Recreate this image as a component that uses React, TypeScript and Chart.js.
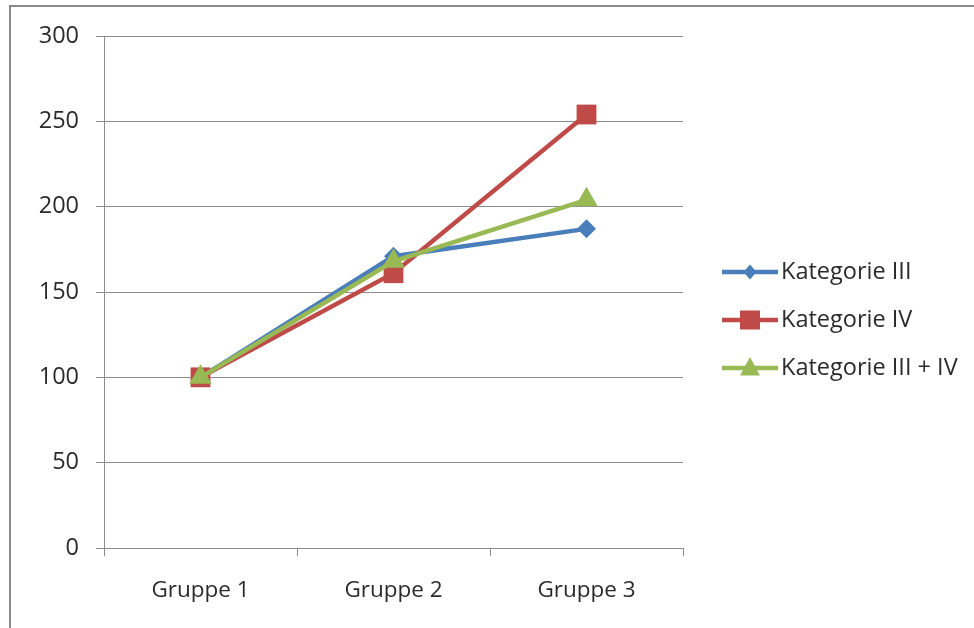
import React, { useEffect, useRef } from "react";
import { Chart, registerables } from "chart.js";

Chart.register(...registerables);

const categories = ["Gruppe 1", "Gruppe 2", "Gruppe 3"];
const seriesNames = ["Kategorie III", "Kategorie IV", "Kategorie III + IV"];
const kategorieIII = [100, 171, 187];
const kategorieIV = [100, 161, 254];
const kategorieIIIundIV = [100, 168, 204];
const yTicks = [0, 50, 100, 150, 200, 250, 300];

const COLORS = ["#4a7ebb", "#be4b48", "#98b954"];
const STYLES = ["rectRot", "rect", "triangle"];
const RADII = [9.5, 14, 13];
const FONT = "'Open Sans', 'Noto Sans', sans-serif";
const TEXT = "#2b2b2b";
const LINE_W = 4.5;

// outer frame of the chart object
const framePlugin = {
  id: "frame",
  beforeDraw(chart: any) {
    const ctx = chart.ctx;
    ctx.save();
    ctx.fillStyle = "#ffffff";
    ctx.fillRect(0, 0, chart.width, chart.height);
    ctx.strokeStyle = "#8a8a8a";
    ctx.lineWidth = 2;
    ctx.strokeRect(10, 6, chart.width + 20, chart.height + 20);
    ctx.restore();
  },
};

function drawMarker(ctx: CanvasRenderingContext2D, style: string, x: number, y: number) {
  ctx.beginPath();
  if (style === "rectRot") {
    ctx.moveTo(x, y - 7.5);
    ctx.lineTo(x + 6.5, y);
    ctx.lineTo(x, y + 7.5);
    ctx.lineTo(x - 6.5, y);
  } else if (style === "rect") {
    ctx.rect(x - 10, y - 9.5, 20, 19);
  } else {
    ctx.moveTo(x, y - 11);
    ctx.lineTo(x + 10, y + 7.5);
    ctx.lineTo(x - 10, y + 7.5);
  }
  ctx.closePath();
  ctx.fill();
}

// line-with-marker legend on the right
const legendPlugin = {
  id: "lineLegend",
  afterDraw(chart: any) {
    const ctx = chart.ctx;
    const rows = [272, 320, 368];
    ctx.save();
    chart.data.datasets.forEach((ds: any, i: number) => {
      const y = rows[i];
      ctx.strokeStyle = ds.borderColor;
      ctx.fillStyle = ds.borderColor;
      ctx.lineWidth = LINE_W;
      ctx.beginPath();
      ctx.moveTo(722, y);
      ctx.lineTo(778, y);
      ctx.stroke();
      drawMarker(ctx, ds.pointStyle, 750, y);
      ctx.fillStyle = TEXT;
      ctx.font = `23.5px ${FONT}`;
      ctx.textBaseline = "middle";
      ctx.textAlign = "left";
      ctx.fillText(ds.label, 781, y);
    });
    ctx.restore();
  },
};

export default function App() {
  const canvasRef = useRef<HTMLCanvasElement | null>(null);

  useEffect(() => {
    document.body.style.margin = "0";
    const canvas = canvasRef.current;
    if (!canvas) return;
    const series = [kategorieIII, kategorieIV, kategorieIIIundIV];
    const chart = new Chart(canvas, {
      type: "line",
      data: {
        labels: categories,
        datasets: series.map((values, i) => ({
          label: seriesNames[i],
          data: values,
          borderColor: COLORS[i],
          backgroundColor: COLORS[i],
          pointBackgroundColor: COLORS[i],
          pointBorderColor: COLORS[i],
          pointBorderWidth: 0,
          pointStyle: STYLES[i] as any,
          pointRadius: RADII[i],
          borderWidth: LINE_W,
          tension: 0,
          fill: false,
          order: series.length - 1 - i,
        })),
      },
      options: {
        responsive: false,
        animation: false,
        layout: { padding: { left: 0, top: 36, right: 291, bottom: 0 } },
        plugins: {
          legend: { display: false },
          tooltip: { enabled: false },
        },
        scales: {
          x: {
            offset: true,
            grid: {
              offset: true,
              drawOnChartArea: false,
              drawTicks: true,
              tickLength: 8,
              color: "#8c8c8c",
            },
            border: { color: "#8c8c8c", width: 1 },
            ticks: {
              color: TEXT,
              font: { family: FONT, size: 22.5 },
              padding: 21,
              maxRotation: 0,
            },
            afterFit: (s: any) => {
              s.height = 80;
            },
          },
          y: {
            min: 0,
            max: 300,
            afterBuildTicks: (s: any) => {
              s.ticks = yTicks.map((v) => ({ value: v }));
            },
            grid: {
              color: "#8c8c8c",
              drawTicks: true,
              tickLength: 8,
            },
            border: { color: "#8c8c8c", width: 1 },
            ticks: {
              color: TEXT,
              font: { family: FONT, size: 23.5 },
              padding: 17,
            },
            afterFit: (s: any) => {
              s.width = 104;
            },
          },
        },
      },
      plugins: [framePlugin, legendPlugin],
    });
    return () => chart.destroy();
  }, []);

  return (
    <div style={{ position: "absolute", left: 0, top: 0, width: 974, height: 628 }}>
      <canvas ref={canvasRef} width={974} height={628} />
    </div>
  );
}
